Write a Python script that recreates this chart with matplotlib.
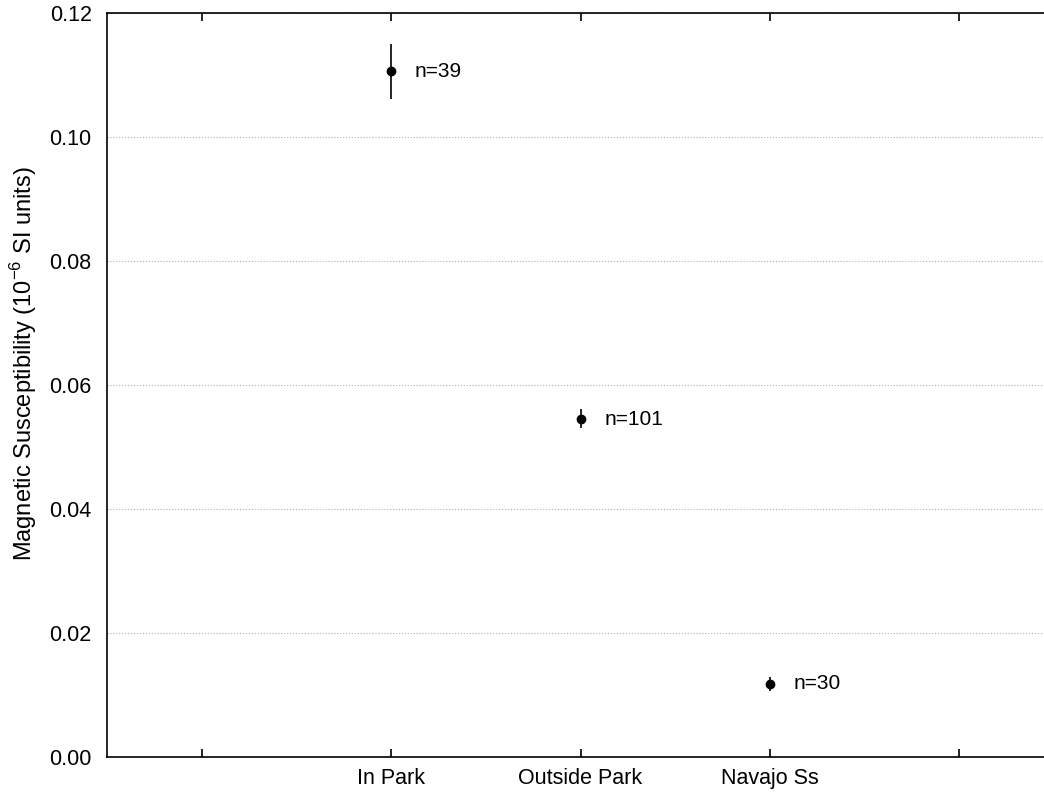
import matplotlib
matplotlib.use('Agg')
from matplotlib import pyplot as plt
from matplotlib.ticker import FormatStrFormatter

plt.rcParams['font.family'] = ['Liberation Sans', 'DejaVu Sans']
plt.rcParams['mathtext.fontset'] = 'custom'
plt.rcParams['mathtext.rm'] = 'Liberation Sans'

# data
groups = ['In Park', 'Outside Park', 'Navajo Ss']
means = [0.1106, 0.0545, 0.0118]
lower = [0.1061, 0.0531, 0.0106]
upper = [0.1150, 0.0561, 0.0129]
counts = [39, 101, 30]

xpos = [1, 2, 3]
yerr = [[m - lo for m, lo in zip(means, lower)],
        [hi - m for m, hi in zip(means, upper)]]

fig = plt.figure(figsize=(10.44, 7.94), dpi=100)
ax = fig.add_axes([107 / 1044, 37 / 794, 947 / 1044, 744 / 794])

ax.errorbar(xpos, means, yerr=yerr, fmt='o', color='black', ms=6,
            elinewidth=1.2, capsize=0)
for x, m, n in zip(xpos, means, counts):
    ax.annotate('n=%d' % n, (x, m), xytext=(17, 0), textcoords='offset points',
                va='center', ha='left', fontsize=15)

ax.set_xlim(-0.5, 4.5)
ax.set_ylim(0, 0.12)
ax.set_xticks([0, 1, 2, 3, 4])
ax.set_xticklabels([''] + groups + [''], fontsize=15.5)
ax.set_yticks([0, 0.02, 0.04, 0.06, 0.08, 0.10, 0.12])
ax.yaxis.set_major_formatter(FormatStrFormatter('%.2f'))
ax.tick_params(axis='x', direction='in', top=True, length=6, width=1.2, pad=8)
ax.tick_params(axis='y', length=0, labelsize=15.5, pad=11)
ax.grid(axis='y', color='#b0b0b0', linestyle=':', linewidth=0.8)
for s in ax.spines.values():
    s.set_linewidth(1.2)
ax.set_ylabel('Magnetic Susceptibility (10$^{\\mathregular{-6}}$ SI units)', fontsize=17)
ax.yaxis.set_label_coords(-0.072, 0.528)

fig.savefig('out.png', dpi=100)
